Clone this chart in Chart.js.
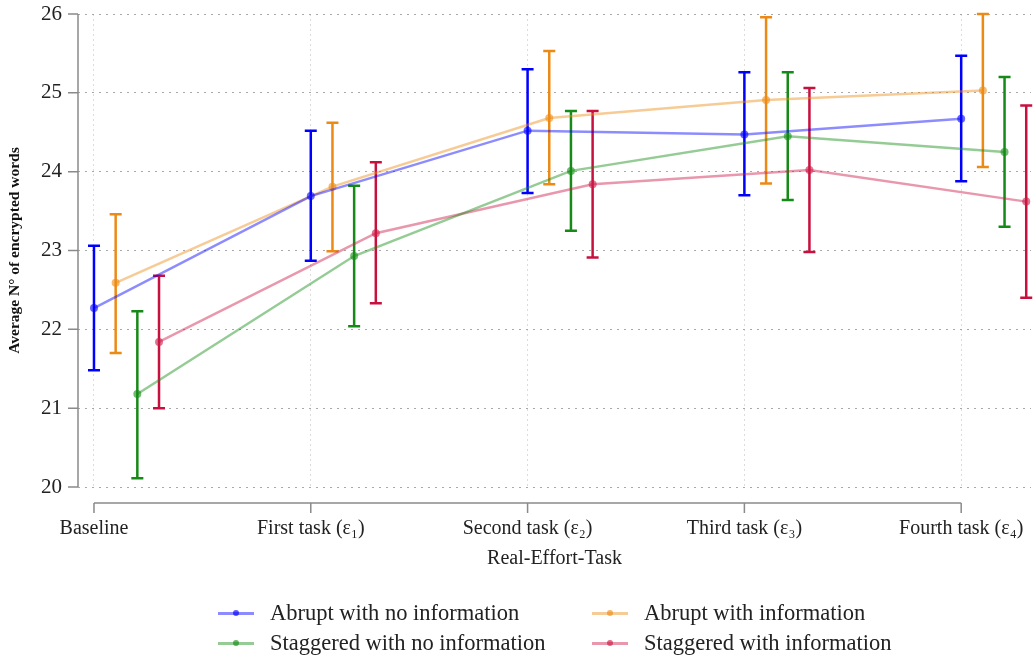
<!DOCTYPE html>
<html>
<head>
<meta charset="utf-8">
<title>Average N° of encrypted words</title>
<script src="https://cdn.jsdelivr.net/npm/chart.js@4.4.1/dist/chart.umd.min.js"></script>
<style>
  body { margin: 0; background: #fff; }
  #wrap { position: relative; width: 1035px; height: 661px; }
  #legend { position: absolute; left: 0; top: 0; width: 1035px; height: 661px; pointer-events: none;
            font-family: 'Liberation Serif', 'DejaVu Serif', serif; font-size: 22.5px; color: #222; }
  .item { position: absolute; height: 30px; display: flex; align-items: center; white-space: nowrap; }
  .mark { position: relative; width: 36px; height: 10px; margin-right: 16px; }
  .mark .ln { position: absolute; left: 0; right: 0; top: 3.5px; height: 3px; }
  .mark .dt { position: absolute; left: 15px; top: 2px; width: 6px; height: 6px; border-radius: 50%; }
</style>
</head>
<body>
<div id="wrap">
  <canvas id="chart" width="1035" height="661"></canvas>
  <div id="legend"></div>
</div>
<script>
// --- data ---
const categories = ['Baseline', 'First task (ε₁)', 'Second task (ε₂)', 'Third task (ε₃)', 'Fourth task (ε₄)'];
const yTicks = [20, 21, 22, 23, 24, 25, 26];

const abruptNoInfo     = [22.27, 23.69, 24.52, 24.47, 24.67];
const abruptNoInfoLow  = [21.48, 22.87, 23.73, 23.70, 23.88];
const abruptNoInfoHigh = [23.06, 24.52, 25.30, 25.26, 25.47];

const abruptInfo     = [22.59, 23.81, 24.68, 24.91, 25.03];
const abruptInfoLow  = [21.70, 22.99, 23.84, 23.85, 24.06];
const abruptInfoHigh = [23.46, 24.62, 25.53, 25.96, 26.00];

const staggeredNoInfo     = [21.18, 22.93, 24.01, 24.45, 24.25];
const staggeredNoInfoLow  = [20.11, 22.04, 23.25, 23.64, 23.30];
const staggeredNoInfoHigh = [22.23, 23.82, 24.77, 25.26, 25.20];

const staggeredInfo     = [21.84, 23.22, 23.84, 24.02, 23.62];
const staggeredInfoLow  = [21.00, 22.33, 22.91, 22.98, 22.40];
const staggeredInfoHigh = [22.68, 24.12, 24.77, 25.06, 24.84];

// series definitions (dodge offset in category units)
const series = [
  { label: 'Abrupt with no information',    mean: abruptNoInfo,    low: abruptNoInfoLow,    high: abruptNoInfoHigh,    rgb: '0,0,255',     bar: '#0000ff', dodge: 0.0 },
  { label: 'Abrupt with information',       mean: abruptInfo,      low: abruptInfoLow,      high: abruptInfoHigh,      rgb: '238,140,20',  bar: '#ec8a16', dodge: 0.1 },
  { label: 'Staggered with no information', mean: staggeredNoInfo, low: staggeredNoInfoLow, high: staggeredNoInfoHigh, rgb: '20,140,20',   bar: '#168a16', dodge: 0.2 },
  { label: 'Staggered with information',    mean: staggeredInfo,   low: staggeredInfoLow,   high: staggeredInfoHigh,   rgb: '205,25,70',   bar: '#c8103e', dodge: 0.3 }
];

const FONT = "'Liberation Serif', 'DejaVu Serif', serif";

// --- error bars + axis brackets, drawn through the chart scales ---
const errorBars = {
  id: 'errorBars',
  beforeDatasetsDraw(chart) {
    const { ctx, scales: { x, y }, chartArea } = chart;
    ctx.save();
    // y axis line and tick marks
    ctx.strokeStyle = '#8a8a8a';
    ctx.lineWidth = 1.5;
    ctx.beginPath();
    ctx.moveTo(chartArea.left, y.getPixelForValue(26));
    ctx.lineTo(chartArea.left, y.getPixelForValue(20));
    yTicks.forEach(v => {
      const py = y.getPixelForValue(v);
      ctx.moveTo(chartArea.left - 10, py);
      ctx.lineTo(chartArea.left, py);
    });
    // x axis bracket below the plot
    const by = chartArea.bottom + 16;
    ctx.moveTo(x.getPixelForValue(0), by);
    ctx.lineTo(x.getPixelForValue(categories.length - 1), by);
    categories.forEach((c, i) => {
      const px = x.getPixelForValue(i);
      ctx.moveTo(px, by);
      ctx.lineTo(px, by + 10);
    });
    ctx.stroke();

    chart.data.datasets.forEach(ds => {
      ctx.strokeStyle = ds.barColor;
      ctx.lineWidth = 2.5;
      ds.data.forEach((p, j) => {
        const px = x.getPixelForValue(p.x);
        const top = y.getPixelForValue(ds.high[j]);
        const bot = y.getPixelForValue(ds.low[j]);
        ctx.beginPath();
        ctx.moveTo(px, top); ctx.lineTo(px, bot);
        ctx.moveTo(px - 6, top); ctx.lineTo(px + 6, top);
        ctx.moveTo(px - 6, bot); ctx.lineTo(px + 6, bot);
        ctx.stroke();
      });
    });
    ctx.restore();
  }
};

const datasets = series.map(s => ({
  label: s.label,
  data: s.mean.map((v, i) => ({ x: i + s.dodge, y: v })),
  low: s.low,
  high: s.high,
  barColor: s.bar,
  showLine: true,
  borderColor: `rgba(${s.rgb},0.45)`,
  borderWidth: 2.5,
  backgroundColor: `rgba(${s.rgb},0.6)`,
  pointBackgroundColor: `rgba(${s.rgb},0.6)`,
  pointBorderWidth: 0,
  pointRadius: 4,
  tension: 0
}));

new Chart(document.getElementById('chart').getContext('2d'), {
  type: 'scatter',
  data: { datasets },
  plugins: [errorBars],
  options: {
    responsive: false,
    animation: false,
    layout: { padding: { top: 14, right: 0, bottom: 90, left: 0 } },
    plugins: { legend: { display: false }, tooltip: { enabled: false } },
    scales: {
      x: {
        type: 'linear',
        min: -0.0737,
        max: 4.322,
        afterBuildTicks: scale => { scale.ticks = categories.map((c, i) => ({ value: i })); },
        afterFit: scale => { scale.height = 84; scale.paddingLeft = 0; scale.paddingRight = 0; },
        ticks: {
          autoSkip: false, maxRotation: 0, padding: 30,
          color: '#222', font: { family: FONT, size: 20 },
          callback: v => categories[v]
        },
        grid: { drawTicks: false, color: '#dcdcdc', lineWidth: 1 },
        border: { display: false, dash: [2, 3] },
        title: { display: true, text: 'Real-Effort-Task', color: '#222', font: { family: FONT, size: 20 }, padding: { top: 0, bottom: 0 } }
      },
      y: {
        min: 20,
        max: 26,
        afterBuildTicks: scale => { scale.ticks = yTicks.map(v => ({ value: v })); },
        afterFit: scale => { scale.width = 78; scale.paddingTop = 0; scale.paddingBottom = 0; },
        ticks: { padding: 16, color: '#222', font: { family: FONT, size: 21 } },
        grid: { drawTicks: false, color: '#a8a8a8', lineWidth: 1 },
        border: { display: false, dash: [2, 5] },
        title: { display: true, text: 'Average N° of encrypted words', color: '#111', font: { family: FONT, size: 15.5, weight: 'bold' }, padding: { top: 6, bottom: 0 } }
      }
    }
  }
});

// --- legend, two columns under the plot ---
const legend = document.getElementById('legend');
const legendPos = [[218, 598], [592, 598], [218, 628], [592, 628]];
series.forEach((s, i) => {
  const item = document.createElement('div');
  item.className = 'item';
  item.style.left = legendPos[i][0] + 'px';
  item.style.top = legendPos[i][1] + 'px';
  item.innerHTML = `<span class="mark"><span class="ln" style="background:rgba(${s.rgb},0.45)"></span>` +
    `<span class="dt" style="background:rgba(${s.rgb},0.65)"></span></span><span>${s.label}</span>`;
  legend.appendChild(item);
});
</script>
</body>
</html>
